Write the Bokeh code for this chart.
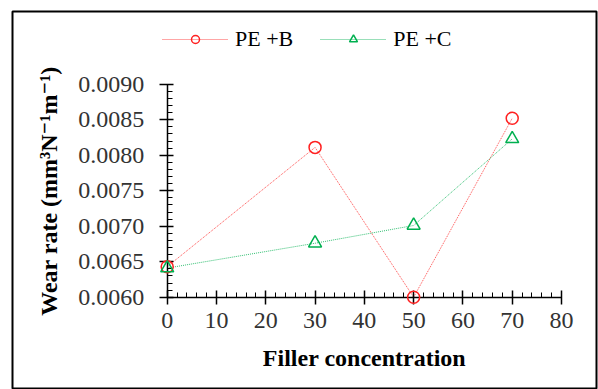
import numpy as np
from bokeh.plotting import figure
from bokeh.models import (Range1d, SingleIntervalTicker, FixedTicker, PrintfTickFormatter,
                          Legend, LegendItem)
from bokeh.embed import file_html
from bokeh.resources import INLINE

# data
filler = [0, 30, 50, 70]
pe_b = [0.00643, 0.00811, 0.00600, 0.00852]
pe_c = [0.00641, 0.00676, 0.00701, 0.00823]
series_names = ["PE +B", "PE +C"]
x_lim = (0, 80)
y_ticks = [0.0060, 0.0065, 0.0070, 0.0075, 0.0080, 0.0085, 0.0090]

FONT = "Tinos, Liberation Serif, DejaVu Serif, serif"
RED = "#FF2020"
GREEN = "#00B050"

# layout (pixels): outer box = plot frame; axes drawn inside it
W, H = 598, 389
box_l, box_r, box_t, box_b = 12, 596, 11, 389
ax_l, ax_r, ax_t, ax_b = 166.7, 561.0, 83.7, 296.7
sx = (ax_r - ax_l) / (x_lim[1] - x_lim[0])
sy = (ax_b - ax_t) / (y_ticks[-1] - y_ticks[0])
xr = Range1d(x_lim[0] - (ax_l - box_l) / sx, x_lim[1] + (box_r - ax_r) / sx)
yr = Range1d(y_ticks[0] - (box_b - ax_b) / sy, y_ticks[-1] + (ax_t - box_t) / sy)

p = figure(width=W, height=H, output_backend="svg", toolbar_location=None,
           x_range=xr, y_range=yr,
           min_border_left=box_l, min_border_right=W - box_r,
           min_border_top=box_t, min_border_bottom=H - box_b)
p.outline_line_color = "black"
p.outline_line_width = 2
p.grid.visible = False
p.background_fill_color = "white"
p.border_fill_color = "white"

# axes
p.xaxis.fixed_location = y_ticks[0]
p.yaxis.fixed_location = x_lim[0]
p.xaxis.bounds = x_lim
p.yaxis.bounds = (y_ticks[0], y_ticks[-1])
p.xaxis.ticker = SingleIntervalTicker(interval=10, num_minor_ticks=5)
minor = np.linspace(y_ticks[0], y_ticks[-1], (len(y_ticks) - 1) * 5 + 1).tolist()
p.yaxis.ticker = FixedTicker(ticks=y_ticks, minor_ticks=minor)
p.yaxis.formatter = PrintfTickFormatter(format="%.4f")
for ax in (p.xaxis[0], p.yaxis[0]):
    ax.axis_line_color = "black"
    ax.axis_line_width = 1.5
    ax.major_tick_line_color = "black"
    ax.major_tick_line_width = 1.5
    ax.minor_tick_line_color = "black"
    ax.minor_tick_line_width = 1
    ax.minor_tick_out = 0
    ax.minor_tick_in = 5
    ax.major_label_text_font = FONT
    ax.major_label_text_font_size = "24px"
    ax.major_label_text_color = "#333333"
    ax.axis_label_text_font = FONT
    ax.axis_label_text_font_style = "bold"
    ax.axis_label_text_font_size = "24px"
    ax.axis_label_text_color = "black"
p.xaxis.major_tick_out = 7
p.xaxis.major_tick_in = 7
p.yaxis.major_tick_out = 8
p.yaxis.major_tick_in = 6
p.xaxis.major_label_standoff = 9
p.yaxis.major_label_standoff = 15
p.xaxis.axis_label = "Filler concentration"
p.yaxis.axis_label = "Wear rate (mm³N⁻¹m⁻¹)"
p.xaxis.axis_label_standoff = 13
p.yaxis.axis_label_standoff = 14

# series
lb = p.line(filler, pe_b, line_color=RED, line_width=1, line_dash="1 1", line_alpha=0.8)
sb = p.scatter(filler, pe_b, marker="circle", size=12, fill_color=None,
               line_color=RED, line_width=1.5, level="overlay")
lc = p.line(filler, pe_c, line_color=GREEN, line_width=1, line_dash="1 1", line_alpha=0.8)
sc = p.scatter(filler, pe_c, marker="triangle", size=13, fill_color=None,
               line_color=GREEN, line_width=1.5, level="overlay")

legend = Legend(items=[LegendItem(label=series_names[0], renderers=[lb, sb]),
                       LegendItem(label=series_names[1], renderers=[lc, sc])],
                orientation="horizontal", location=(162 - box_l, box_b - 52),
                border_line_color=None, background_fill_alpha=0,
                padding=0, margin=0, spacing=27, glyph_width=66, glyph_height=20,
                label_standoff=7, label_text_font=FONT, label_text_font_size="22px",
                label_text_color="black")
p.add_layout(legend, "center")

open("out.html", "w").write(file_html(p, INLINE))
